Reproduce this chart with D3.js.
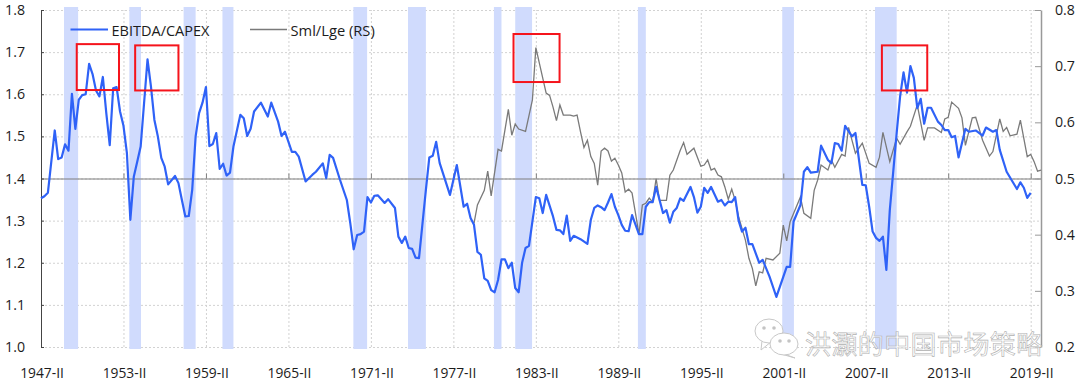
<!DOCTYPE html>
<html><head><meta charset="utf-8">
<script src="https://cdn.jsdelivr.net/npm/d3@7"></script>
<style>html,body{margin:0;padding:0;background:#fff}svg{display:block}text{font-family:"Open Sans",sans-serif;fill:#1c1c1c}</style>
</head><body><svg id="c" width="1080" height="390"></svg>
<script>
const xTickQuarter=[0,24,48,72,96,120,144,168,192,216,240,264,288];
const xTickLabels=["1947-II","1953-II","1959-II","1965-II","1971-II","1977-II","1983-II","1989-II","1995-II","2001-II","2007-II","2013-II","2019-II"];
const leftTicks=[1.0,1.1,1.2,1.3,1.4,1.5,1.6,1.7,1.8];
const rightTicks=[0.2,0.3,0.4,0.5,0.6,0.7,0.8];
const seriesNames=["EBITDA/CAPEX","Sml/Lge (RS)"];
const watermark="洪灝的中国市场策略";
const bandStart=[6.7,25.7,41.5,52.8,90.9,106.8,131.8,138,173.7,215.7,242.7];
const bandEnd=[10.8,29.1,45,56,94.9,112,134,142.9,176,219.1,249];
const boxQ0=[10.4,27.4,137.5,244.7];
const boxQ1=[22.7,40,150.9,257.9];
const boxTop=[1.719,1.716,1.743,1.716];
const boxBottom=[1.610,1.609,1.629,1.609];
const blueQuarter=[0,1,2,4,5,6,7,8,9,10,11,12,13,14,15,16,17,18,19,20,21,22,23,24,25,26,27,28,29,31,32,33,34,35,36,37,39,40,41,42,43,44,45,46,47,48,49,50,51,52,53,54,55,56,58,59,60,61,62,64,66,67,69,70,71,73,74,75,77,79,80,82,83,84,85,87,89,90,91,92,
93,94,95,96,97,98,100,101,103,104,105,106,107,108,109,110,112,113,114,115,116,119,121,123,124,125,126,127,128,129,130,131,132,133,134,135,136,137,138,139,140,141,142,144,145,146,147,149,150,151,152,153,154,155,157,159,160,161,162,163,164,165,166,167,168,169,170,171,172,174,175,176,177,178,179,180,181,182,183,184,185,186,187,189,190,191,192,193,194,195,197,
198,199,200,201,202,203,204,205,206,207,209,210,212,213,214,217,218,219,221,222,223,224,226,227,229,230,231,232,233,234,236,237,239,240,241,242,243,244,245,246,247,249,250,251,252,253,254,255,256,257,258,259,261,262,263,264,265,266,267,269,270,272,274,275,277,278,279,281,284,285,286,287,288];
const blueValue=[1.353,1.358,1.366,1.514,1.446,1.45,1.481,1.466,1.601,1.518,1.587,1.598,1.6,1.672,1.648,1.609,1.595,1.641,1.555,1.479,1.614,1.617,1.559,1.525,1.46,1.302,1.404,1.44,1.476,1.683,1.618,1.539,1.5,1.449,1.428,1.386,1.406,1.389,1.349,1.31,1.311,1.373,1.5,1.555,1.58,1.617,1.477,1.482,1.508,1.423,1.435,1.407,1.414,1.476,1.551,1.543,1.501,1.518,1.559,1.58,1.547,1.58,1.535,1.501,1.511,1.463,1.463,1.452,1.393,1.409,1.416,1.436,1.401,1.456,1.449,1.397,1.349,1.294,1.232,1.266,
1.268,1.274,1.356,1.343,1.359,1.36,1.342,1.351,1.33,1.262,1.247,1.262,1.235,1.233,1.212,1.211,1.373,1.45,1.454,1.487,1.437,1.361,1.432,1.333,1.34,1.306,1.29,1.226,1.219,1.163,1.157,1.135,1.13,1.159,1.208,1.208,1.187,1.2,1.14,1.13,1.2,1.235,1.24,1.356,1.353,1.318,1.361,1.31,1.278,1.277,1.268,1.312,1.252,1.264,1.256,1.245,1.302,1.33,1.336,1.332,1.325,1.343,1.363,1.333,1.313,1.29,1.276,1.275,1.313,1.268,1.268,1.333,1.344,1.344,1.38,1.349,1.318,1.325,1.295,1.321,1.33,1.353,1.347,1.38,1.356,1.319,1.333,1.378,1.366,1.38,1.345,
1.349,1.336,1.345,1.344,1.356,1.3,1.274,1.283,1.244,1.244,1.2,1.207,1.167,1.143,1.119,1.19,1.19,1.298,1.337,1.416,1.427,1.414,1.416,1.478,1.444,1.436,1.484,1.482,1.466,1.525,1.5,1.508,1.385,1.384,1.333,1.274,1.259,1.252,1.262,1.183,1.325,1.508,1.595,1.652,1.604,1.667,1.639,1.567,1.589,1.53,1.568,1.568,1.535,1.527,1.515,1.515,1.498,1.501,1.45,1.518,1.511,1.514,1.502,1.521,1.511,1.515,1.468,1.416,1.375,1.391,1.378,1.354,1.366];
const grayQuarter=[126,127,129,130,131,133,134,136,137,138,139,141,143,144,147,148,149,150,151,152,154,155,156,157,158,159,160,161,162,163,164,165,166,167,168,169,170,171,172,173,174,175,176,177,178,179,180,182,183,184,186,187,188,190,192,193,194,195,196,197,
198,199,200,201,202,203,205,206,207,208,209,210,211,213,215,216,217,218,221,222,224,225,226,227,229,230,231,233,234,235,237,239,241,243,244,245,247,249,250,252,253,255,257,258,260,262,263,264,265,267,268,269,271,272,274,276,277,279,280,281,282,284,285,287,288,289,290,291];
const grayValue=[0.42,0.453,0.479,0.513,0.469,0.552,0.549,0.623,0.577,0.597,0.588,0.584,0.64,0.733,0.652,0.648,0.627,0.603,0.631,0.613,0.613,0.611,0.613,0.583,0.555,0.568,0.539,0.527,0.488,0.549,0.554,0.549,0.531,0.536,0.524,0.51,0.476,0.481,0.474,0.438,0.401,0.453,0.456,0.465,0.458,0.5,0.461,0.461,0.506,0.515,0.55,0.564,0.543,0.554,0.522,0.524,0.533,0.515,0.518,0.506,
0.503,0.485,0.463,0.481,0.461,0.432,0.39,0.358,0.34,0.309,0.334,0.332,0.358,0.355,0.367,0.417,0.389,0.423,0.467,0.438,0.429,0.479,0.497,0.524,0.515,0.533,0.52,0.543,0.54,0.591,0.545,0.563,0.527,0.52,0.538,0.582,0.53,0.572,0.561,0.583,0.593,0.631,0.568,0.59,0.59,0.582,0.606,0.609,0.636,0.625,0.608,0.559,0.608,0.609,0.568,0.54,0.548,0.606,0.584,0.591,0.576,0.579,0.604,0.539,0.543,0.53,0.513,0.515];

const svg=d3.select("#c");
const x=d3.scaleLinear().domain([0,291]).range([41,1041]);
const y=d3.scaleLinear().domain([1.0,1.8]).range([347,10]);
const yR=d3.scaleLinear().domain([0.2,0.8]).range([347,10]);
const FF='"Open Sans",sans-serif';

const gx=svg.append("g").attr("transform","translate(0,347)")
  .call(d3.axisBottom(x).tickValues(xTickQuarter).tickSize(-337).tickFormat(""));
gx.select(".domain").remove();
gx.selectAll("line").attr("stroke","#d2d2d2").attr("stroke-dasharray","2 2");
const gy=svg.append("g").attr("transform","translate(41,0)")
  .call(d3.axisLeft(y).tickValues(leftTicks).tickSize(-1000).tickFormat(""));
gy.select(".domain").remove();
gy.selectAll("line").attr("stroke","#d2d2d2").attr("stroke-dasharray","2 2");

svg.append("g").selectAll("rect").data(bandStart).join("rect")
  .attr("x",d=>x(d)).attr("width",(d,i)=>x(bandEnd[i])-x(d))
  .attr("y",y(1.8)-3).attr("height",y(1.0)-y(1.8)+5).attr("fill","#d0dbfd");

const ax=svg.append("g").attr("transform",`translate(0,${y(1.4)})`)
  .call(d3.axisBottom(x).tickValues(xTickQuarter).tickSize(-5).tickSizeOuter(0).tickFormat(""));
ax.selectAll("line,path").attr("stroke","#7f7f7f");
ax.select(".domain").attr("stroke-width",1.2);

const lx=svg.append("g").attr("transform","translate(0,347)")
  .call(d3.axisBottom(x).tickValues(xTickQuarter).tickSize(0).tickPadding(21).tickFormat((d,i)=>xTickLabels[i]));
lx.select(".domain").remove();
lx.selectAll("text").attr("font-size",13.8).attr("dx",0.5).attr("fill","#1c1c1c").style("font-family",FF);

const al=svg.append("g").attr("transform","translate(41,0)")
  .call(d3.axisLeft(y).tickValues(leftTicks).tickSize(-3).tickSizeOuter(0).tickPadding(16).tickFormat(d3.format(".1f")));
al.selectAll("line,path").attr("stroke","#444");
al.selectAll("text").attr("font-size",14.2).attr("fill","#1c1c1c").style("font-family",FF);

const ar=svg.append("g").attr("transform","translate(1041,0)")
  .call(d3.axisRight(yR).tickValues(rightTicks).tickSize(-6).tickSizeOuter(0).tickPadding(14).tickFormat(d3.format(".1f")));
ar.selectAll("line,path").attr("stroke","#999");
ar.select(".domain").attr("stroke-width",1.5);
ar.selectAll("text").attr("font-size",14.2).attr("fill","#1c1c1c").style("font-family",FF);

const line=(q,sc)=>d3.line().x((d,i)=>x(q[i])).y(d=>sc(d));
svg.append("path").attr("d",line(grayQuarter,yR)(grayValue)).attr("fill","none").attr("stroke","#7a7a7a").attr("stroke-width",1.3);
svg.append("path").attr("d",line(blueQuarter,y)(blueValue)).attr("fill","none").attr("stroke","#2f62f7").attr("stroke-width",2.2).attr("stroke-linejoin","round");

svg.append("g").selectAll("rect").data(boxQ0).join("rect")
  .attr("x",d=>x(d)).attr("width",(d,i)=>x(boxQ1[i])-x(d))
  .attr("y",(d,i)=>y(boxTop[i])).attr("height",(d,i)=>y(boxBottom[i])-y(boxTop[i]))
  .attr("fill","none").attr("stroke","#f5141c").attr("stroke-width",2);

const lg=svg.append("g");
lg.append("line").attr("x1",70.5).attr("x2",108).attr("y1",29.5).attr("y2",29.5).attr("stroke","#2f62f7").attr("stroke-width",2.2);
lg.append("text").attr("x",111.5).attr("y",35.5).attr("font-size",14.5).text(seriesNames[0]);
lg.append("line").attr("x1",250).attr("x2",287).attr("y1",29.5).attr("y2",29.5).attr("stroke","#7a7a7a").attr("stroke-width",1.3);
lg.append("text").attr("x",290.5).attr("y",35.5).attr("font-size",14.7).text(seriesNames[1]);

const wm=svg.append("g");
const bub=(cx,cy,rx,ry,tx,ty)=>{
  wm.append("path").attr("d",`M${cx-rx*0.5},${cy+ry*0.8} L${tx},${ty} L${cx+rx*0.1},${cy+ry*0.95} Z`).attr("fill","#fff").attr("stroke","#c8c8c8");
  wm.append("ellipse").attr("cx",cx).attr("cy",cy).attr("rx",rx).attr("ry",ry).attr("fill","#fff").attr("stroke","#c8c8c8");
};
bub(769,331,14,12,761,350);
bub(784,344,14,11,795,358);
[[764,328],[774,328],[780,341],[789,341]].forEach(p=>wm.append("circle").attr("cx",p[0]).attr("cy",p[1]).attr("r",1.8).attr("fill","#c4c4c4"));
wm.append("text").attr("x",805).attr("y",354).attr("font-size",26).attr("letter-spacing",0.4)
  .style("font-family",'"Noto Sans CJK SC",sans-serif').style("fill","rgba(255,255,255,0.55)").attr("stroke","#b0b0b0").attr("stroke-width",0.6).text(watermark);
</script></body></html>
